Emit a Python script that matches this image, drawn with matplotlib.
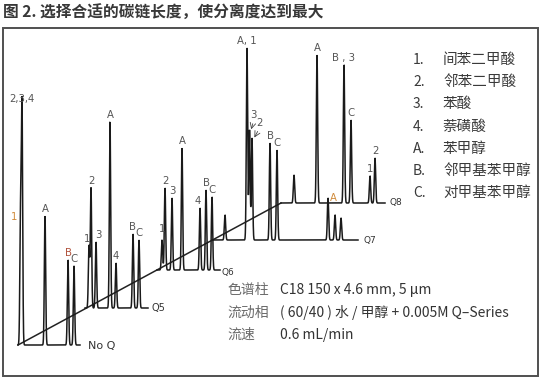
import numpy as np
import matplotlib
matplotlib.use('Agg')
import matplotlib.pyplot as plt
from matplotlib.patches import Rectangle

plt.rcParams['font.family'] = ['Noto Sans CJK SC', 'DejaVu Sans']

# ---------------- data (retention in px-time units, response in px units) ----
trace_names = ['No Q', 'Q5', 'Q6', 'Q7', 'Q8']

noq_rt = [2.5, 4.0, 27.0, 50.0, 56.0]
noq_h = [127, 239, 129, 85, 79]
noq_lab = ['1', '2,3,4', 'A', 'B', 'C']

q5_rt = [4.0, 6.0, 11.0, 25.0, 31.0, 48.0, 54.0]
q5_h = [62, 120, 66, 186, 45, 74, 68]
q5_lab = ['1', '2', '3', 'A', '4', 'B', 'C']

q6_rt = [5.0, 8.0, 15.0, 25.0, 43.0, 49.0, 55.0]
q6_h = [30, 82, 72, 122, 62, 80, 73]
q6_lab = ['1', '2', '3', 'A', '4', 'B', 'C']

q7_rt = [13.0, 35.0, 37.5, 40.0, 58.0, 65.0, 116.0, 123.0, 129.0]
q7_h = [25, 192, 110, 102, 97, 90, 42, 25, 22]
q7_lab = ['', 'A, 1', '3', '2', 'B', 'C', '', 'A', '']

q8_rt = [13.0, 36.0, 63.0, 70.0, 89.0, 94.0]
q8_h = [28, 148, 138, 83, 27, 45]
q8_lab = ['', 'A', 'B , 3', 'C', '1', '2']

legend_keys = ['1.', '2.', '3.', '4.', 'A.', 'B.', 'C.']
legend_names = ['间苯二甲酸', '邻苯二甲酸', '苯酸', '萘磺酸', '苯甲醇', '邻甲基苯甲醇', '对甲基苯甲醇']

cond_keys = ['色谱柱', '流动相', '流速']
cond_vals = ['C18 150 x 4.6 mm, 5 μm', '( 60/40 ) 水 / 甲醇 + 0.005M Q–Series', '0.6 mL/min']

title = '图 2. 选择合适的碳链长度，使分离度达到最大'

# ---------------- layout ----------------
origins = [(18, 345), (85, 308), (157, 270), (212, 240), (281, 203)]
lengths = [62, 63, 63, 146, 104]
name_pos = [(88, 346, 8), (152, 308, 7), (222, 272, 6.5), (364, 240, 6.5), (389, 203, 6.5)]
traces = [(noq_rt, noq_h, noq_lab), (q5_rt, q5_h, q5_lab), (q6_rt, q6_h, q6_lab),
          (q7_rt, q7_h, q7_lab), (q8_rt, q8_h, q8_lab)]
# per-label nudges (px) and colours
nudges = {(0, 0): (-6, 6), (1, 0): (-2, 0), (1, 2): (2, 0), (2, 0): (0, -4),
          (2, 4): (-2, 0), (3, 2): (4, -8), (3, 3): (7, -8), (3, 7): (-2, -10)}
label_colors = {(0, 0): '#d08a3a', (0, 3): '#b0503a', (3, 7): '#d08a3a'}

W, H = 544, 381
fig = plt.figure(figsize=(W / 100, H / 100), dpi=100)
ax = fig.add_axes([0, 0, 1, 1])
ax.set_xlim(0, W)
ax.set_ylim(H, 0)
ax.axis('off')

# title & frame
ax.text(3, 13, title, fontsize=11.3, fontweight='bold', color='#383838', va='center', ha='left')
ax.add_patch(Rectangle((3, 28), 535, 348, fill=False, lw=1.4, edgecolor='#505050'))

# diagonal joining trace origins
ox = [o[0] for o in origins]
oy = [o[1] for o in origins]
ax.plot([ox[0], ox[-1]], [oy[0], oy[-1]], color='#222222', lw=1.1)

sig = 0.65
for i, ((rt, hh, labs), (x0, y0), L) in enumerate(zip(traces, origins, lengths)):
    t = np.linspace(0, L, int(L * 40))
    resp = np.zeros_like(t)
    for r, h in zip(rt, hh):
        resp += h * np.exp(-0.5 * ((t - r) / sig) ** 2)
    ax.plot(x0 + t, y0 - resp, color='#1a1a1a', lw=1.1, solid_joinstyle='miter')
    for j, (r, h, lab) in enumerate(zip(rt, hh, labs)):
        if not lab:
            continue
        dx, dy = nudges.get((i, j), (0, 0))
        c = label_colors.get((i, j), '#555555')
        ax.text(x0 + r + dx, y0 - h - 2 + dy, lab, fontsize=7.3, color=c,
                ha='center', va='bottom', family='DejaVu Sans')
    nx, ny, fs = name_pos[i]
    ax.text(nx, ny, trace_names[i], fontsize=fs, color='#333333', va='center', ha='left',
            family='DejaVu Sans')

# small arrows for Q7 labels 3 and 2
x7, y7 = origins[3]
for j in [2, 3]:
    ddx, ddy = nudges[(3, j)]
    tx = x7 + q7_rt[j] + ddx
    ty = y7 - q7_h[j] - 2 + ddy
    ax.annotate('', xy=(x7 + q7_rt[j] + 1, y7 - q7_h[j] + 2), xytext=(tx, ty + 1),
                arrowprops=dict(arrowstyle='->', lw=0.6, color='#444444'))

# legend block
for k, (key, name) in enumerate(zip(legend_keys, legend_names)):
    yy = 60 + k * 22.2
    ax.text(413, yy, key, fontsize=10, color='#3a3a3a', va='center', ha='left')
    ax.text(443, yy, name, fontsize=10.5, color='#3a3a3a', va='center', ha='left')

# conditions
for k, (key, val) in enumerate(zip(cond_keys, cond_vals)):
    yy = 290 + k * 22.5
    ax.text(227, yy, key, fontsize=10, color='#6a6a6a', va='center', ha='left')
    ax.text(280, yy, val, fontsize=10, color='#333333', va='center', ha='left')

fig.savefig('out.png', dpi=100)
